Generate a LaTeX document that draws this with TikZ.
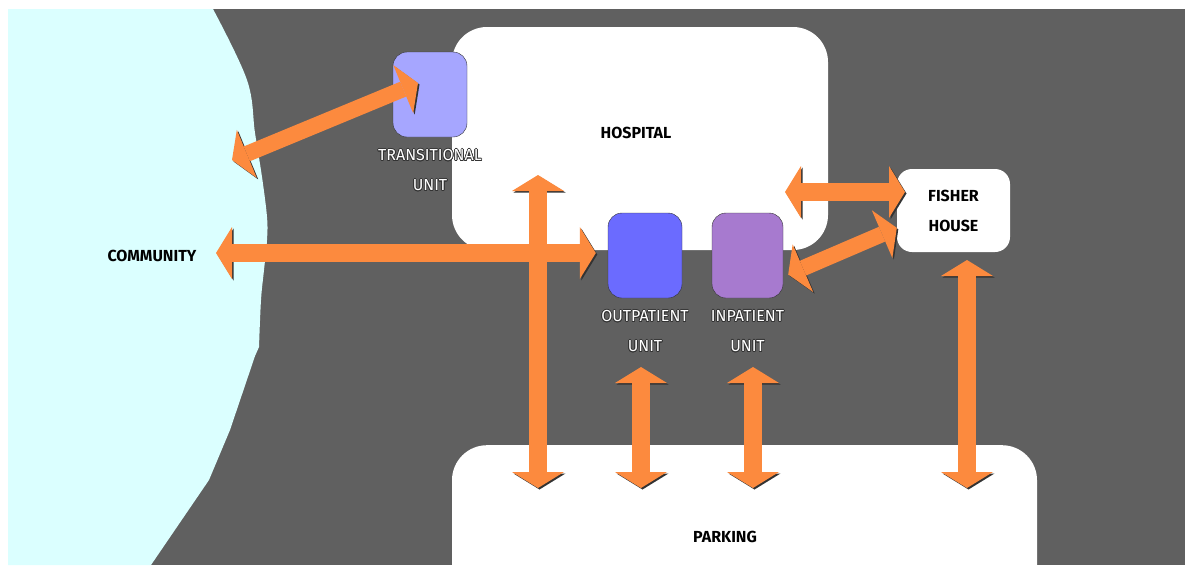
\documentclass[tikz,border=0pt]{standalone}
\usepackage{fontspec}
\setmainfont{Fira Sans}
\usepackage[copies]{contour}
\contourlength{0.7pt}
\usetikzlibrary{arrows.meta}

\definecolor{roadgray}{RGB}{96,96,96}
\definecolor{commcyan}{RGB}{219,255,255}
\definecolor{transblue}{RGB}{166,166,255}
\definecolor{outblue}{RGB}{107,107,255}
\definecolor{inpurple}{RGB}{167,122,207}
\definecolor{arroworange}{RGB}{252,138,62}

\tikzstyle{zone} = [rectangle, rounded corners=35pt, fill=white, inner sep=0pt]
\tikzstyle{unit} = [rectangle, rounded corners=14pt, draw=black!80, inner sep=0pt, minimum width=74pt, minimum height=85pt]
\tikzstyle{title} = [font=\bfseries\fontsize{16}{30}\selectfont, align=center]
\tikzstyle{sub} = [font=\fontsize{16}{30}\selectfont, text=white, align=center]
\tikzstyle{arrow} = [line width=18pt, draw=arroworange,
  {Triangle[width=52pt,length=16pt,line width=0pt]}-{Triangle[width=52pt,length=16pt,line width=0pt]},
  preaction={draw=black!80, transform canvas={shift={(1.5pt,-1.5pt)}}}]
\tikzstyle{thinarrow} = [arrow, line width=16pt]

\newcommand{\outl}[1]{\contour{black!80}{#1}}

\begin{document}
\begin{tikzpicture}[x=1pt, y=-1pt, node distance=76pt]
    \useasboundingbox (0,0) rectangle (1185,565);
    \clip (0,0) rectangle (1185,565);

    % ground and community
    \fill [roadgray] (8,9) rectangle (1185,565);
    \fill [commcyan] (8,9) -- plot [smooth, tension=0.6] coordinates {(213,9) (247,80) (255,133) (262,177) (267,217) (267,240) (264,270) (261,300) (259,347)}
        -- (255,356) -- (230,430) -- (209,480) -- (151,565) -- (8,565) -- cycle;

    % zones
    \node (hosp) [zone, minimum width=376pt, minimum height=223pt] at (640,138.5) {};
    \node (park) [zone, minimum width=585pt, minimum height=200pt, anchor=north] at (744.5,445) {};
    \node (fish) [zone, rounded corners=15pt, minimum width=113pt, minimum height=83pt, title] at (953.5,210.5) {FISHER\\HOUSE};

    % units
    \node (trans) [unit, fill=transblue] at (430,94.5) {};
    \node (outp)  [unit, fill=outblue]   at (645,255.5) {};
    \node (inp)   [unit, fill=inpurple, minimum width=71pt] at (747.5,255.5) {};

    \node (translbl) [sub, below of=trans] {\outl{TRANSITIONAL}\\\outl{UNIT}};
    \node (outlbl)   [sub, below of=outp]  {\outl{OUTPATIENT}\\\outl{UNIT}};
    \node (inlbl)    [sub, below of=inp]   {\outl{INPATIENT}\\\outl{UNIT}};

    \node (hosplbl) [title] at (636,133) {HOSPITAL};
    \node (commlbl) [title] at (152,256) {COMMUNITY};
    \node (parklbl) [title] at (725,537) {PARKING};

    % arrow ends
    \coordinate (commtr)  at (232,160);
    \coordinate (transin) at (418,83);
    \coordinate (commout) at (216,253);
    \coordinate (hospin)  at (538,175);
    \coordinate (park1)   at (538,488);
    \coordinate (outbot)  at (641,367);
    \coordinate (park2)   at (641,488);
    \coordinate (inbot)   at (753,367);
    \coordinate (park3)   at (753,488);
    \coordinate (fishbot) at (967,260);
    \coordinate (park4)   at (967,488);
    \coordinate (hospout) at (785,192);
    \coordinate (fishin)  at (905,192);

    \draw [thinarrow] (commtr) -- (transin);
    \draw [arrow] (hospin) -- (park1);
    \draw [arrow, shorten >=12pt] (commout) -- (commout -| outp.west);
    \draw [arrow] (outbot) -- (park2);
    \draw [arrow] (inbot) -- (park3);
    \draw [arrow] (fishbot) -- (park4);
    \draw [arrow] (hospout) -- (fishin);
    \draw [thinarrow] ([xshift=5pt]inp.-28) -- (fish.197);
\end{tikzpicture}
\end{document}
